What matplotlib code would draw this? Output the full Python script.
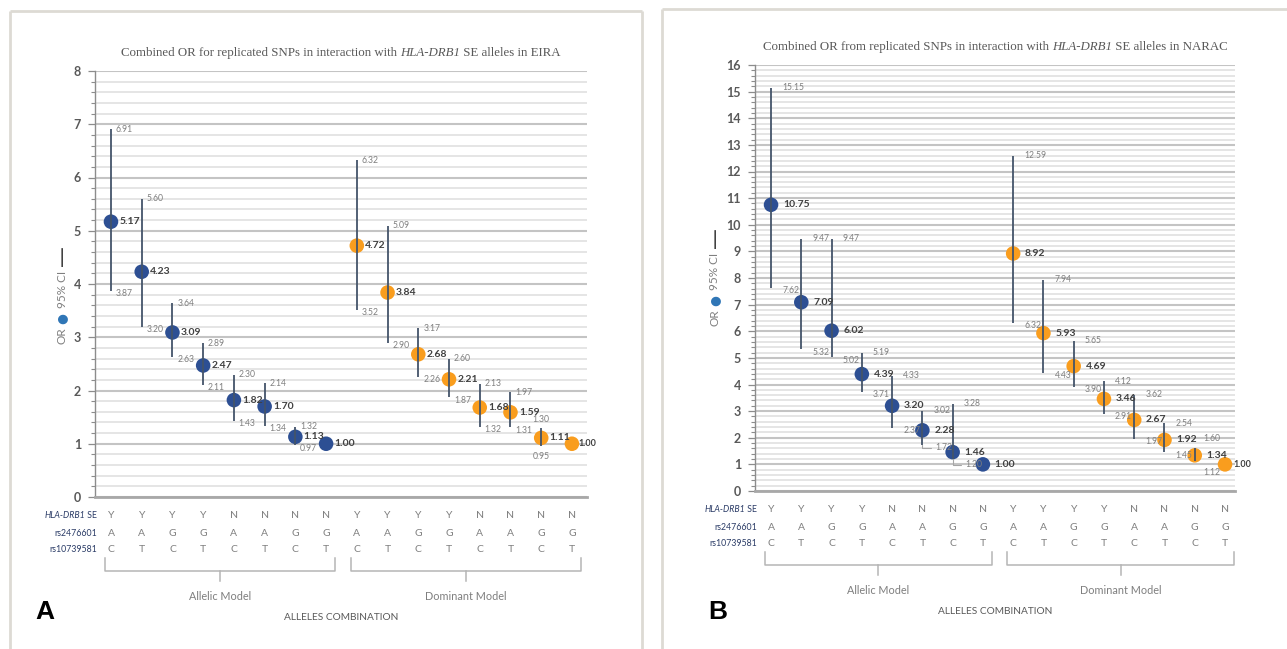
import matplotlib
matplotlib.use('Agg')
import matplotlib.pyplot as plt
import matplotlib.transforms as mtransforms
from matplotlib.lines import Line2D
import numpy as np

plt.rcParams['font.family'] = ['Lato', 'DejaVu Sans']

W, H = 1287, 649

# ---------------- data ----------------
hla_se     = ['Y', 'Y', 'Y', 'Y', 'N', 'N', 'N', 'N', 'Y', 'Y', 'Y', 'Y', 'N', 'N', 'N', 'N']
rs2476601  = ['A', 'A', 'G', 'G', 'A', 'A', 'G', 'G', 'A', 'A', 'G', 'G', 'A', 'A', 'G', 'G']
rs10739581 = ['C', 'T', 'C', 'T', 'C', 'T', 'C', 'T', 'C', 'T', 'C', 'T', 'C', 'T', 'C', 'T']
row_labels = ['HLA-DRB1 SE', 'rs2476601', 'rs10739581']
model_labels = ['Allelic Model', 'Dominant Model']

eira_allelic_or = [5.17, 4.23, 3.09, 2.47, 1.82, 1.70, 1.13, 1.00]
eira_allelic_lo = [3.87, 3.20, 2.63, 2.11, 1.43, 1.34, 0.97, None]
eira_allelic_hi = [6.91, 5.60, 3.64, 2.89, 2.30, 2.14, 1.32, None]
eira_dom_or = [4.72, 3.84, 2.68, 2.21, 1.68, 1.59, 1.11, 1.00]
eira_dom_lo = [3.52, 2.90, 2.26, 1.87, 1.32, 1.31, 0.95, None]
eira_dom_hi = [6.32, 5.09, 3.17, 2.60, 2.13, 1.97, 1.30, None]

narac_allelic_or = [10.75, 7.09, 6.02, 4.39, 3.20, 2.28, 1.46, 1.00]
narac_allelic_lo = [7.62, 5.32, 5.02, 3.71, 2.37, 1.72, 1.20, None]
narac_allelic_hi = [15.15, 9.47, 9.47, 5.19, 4.33, 3.02, 3.28, None]
narac_dom_or = [8.92, 5.93, 4.69, 3.46, 2.67, 1.92, 1.34, 1.00]
narac_dom_lo = [6.32, 4.43, 3.90, 2.91, 1.97, 1.45, 1.12, None]
narac_dom_hi = [12.59, 7.94, 5.65, 4.12, 3.62, 2.54, 1.60, None]

# ---------------- style ----------------
BLUE = '#2D4F93'
ORANGE = '#F99D1E'
BAR = '#44546A'
GRAY_TXT = '#7F7F7F'
DARK_TXT = '#404040'
NAVY_TXT = '#2A3B66'
FRAME = '#DDDAD4'

fig = plt.figure(figsize=(W / 100, H / 100), dpi=100)
fig.patch.set_facecolor('white')


def fx(px):
    return px / W


def fy(py):
    return 1 - py / H


def add_frame(lines):
    for xs, ys in lines:
        fig.add_artist(Line2D([fx(v) for v in xs], [fy(v) for v in ys],
                              transform=fig.transFigure, color=FRAME, lw=2.0,
                              solid_capstyle='butt'))


add_frame([([10, 10], [11, 660]), ([10, 642], [11, 11]), ([642, 642], [11, 660])])
add_frame([([662, 662], [9, 660]), ([662, 1300], [9, 9])])


def rich_line(parts, xc, y, renderer, **common):
    """parts: list of (text, style). centered at figure fraction xc."""
    texts = []
    for s, st in parts:
        t = fig.text(0, y, s, ha='left', va='center', style=st, **common)
        texts.append(t)
    widths = [t.get_window_extent(renderer).width for t in texts]
    total = sum(widths)
    x = xc * W - total / 2
    for t, w in zip(texts, widths):
        t.set_x(x / W)
        x += w


def panel(ax_rect, a_or, a_lo, a_hi, d_or, d_lo, d_hi, ymax, xlim, title_parts,
          letter, letter_x, ylab_x, ylab_or_y, val_off, ci_off, msize, overrides):
    left, top, right, bottom = ax_rect
    ax = fig.add_axes([fx(left), fy(bottom), fx(right - left), (bottom - top) / H])
    ax.set_facecolor('none')
    ors = a_or + d_or
    los = a_lo + d_lo
    his = a_hi + d_hi
    xs = np.arange(len(ors))
    cols = [BLUE] * len(a_or) + [ORANGE] * len(d_or)

    ax.set_xlim(*xlim)
    ax.set_ylim(0, ymax)
    ax.set_yticks(np.arange(0, ymax + 1, 1))
    ax.set_yticks(np.arange(0, ymax + 0.001, 0.2), minor=True)
    ax.grid(True, which='major', axis='y', color='#C4C4C4', lw=1.5)
    ax.grid(True, which='minor', axis='y', color='#DEDEDE', lw=1.1)
    ax.set_axisbelow(True)
    for s in ['top', 'right']:
        ax.spines[s].set_visible(False)
    ax.spines['left'].set_color('#8C8C8C')
    ax.spines['left'].set_linewidth(1.0)
    ax.spines['bottom'].set_color('#A8A8A8')
    ax.spines['bottom'].set_linewidth(2.0)
    ax.tick_params(axis='y', which='major', direction='out', color='#8C8C8C',
                   length=5, width=0.9, labelsize=9, labelcolor='#595959', pad=5)
    ax.tick_params(axis='y', which='minor', direction='out', color='#8C8C8C',
                   length=3, width=0.8)
    ax.tick_params(axis='x', bottom=False, labelbottom=False)
    for lbl in ax.get_yticklabels():
        lbl.set_fontweight('bold')

    # error bars (drawn over markers as in the reference)
    for i in xs:
        if los[i] is not None:
            ax.vlines(i, los[i], his[i], color=BAR, lw=1.3, zorder=5)
    ax.scatter(xs, ors, s=msize, c=cols, zorder=4, edgecolors='none')

    # labels
    for i in xs:
        ov = overrides.get(i, {})
        is_last = (i == len(ors) - 1)
        ax.annotate(f'{ors[i]:.2f}', (i, ors[i]),
                    xytext=(val_off * (0.75 if is_last else 1), 0),
                    textcoords='offset points', ha='left', va='center',
                    fontsize=6.5 if is_last else 7.5, fontweight='bold',
                    color=DARK_TXT, zorder=6)
        if los[i] is not None:
            hx, hy = ov.get('hi', (ci_off, 0))
            lx, ly = ov.get('lo', (ci_off, -2))
            ha_h = ov.get('ha', 'left')
            ax.annotate(f'{his[i]:.2f}', (i, his[i]), xytext=(hx, hy),
                        textcoords='offset points', ha=ha_h, va='center',
                        fontsize=6.2, color=GRAY_TXT, zorder=6)
            kw = {}
            if ov.get('leader'):
                kw['arrowprops'] = dict(arrowstyle='-', color='#A6A6A6', lw=0.8,
                                        shrinkA=1, shrinkB=0,
                                        connectionstyle='angle,angleA=180,angleB=90,rad=0')
            ax.annotate(f'{los[i]:.2f}', (i, los[i]), xytext=(lx, ly),
                        textcoords='offset points', ha=ha_h, va='center',
                        fontsize=6.2, color=GRAY_TXT, zorder=6, **kw)

    # category table below the axis
    trans = mtransforms.blended_transform_factory(ax.transData, fig.transFigure)
    row_offsets = [19, 36, 53]
    for rvals, off in zip([hla_se, rs2476601, rs10739581], row_offsets):
        for i, v in enumerate(rvals):
            ax.text(i, fy(bottom + off), v, transform=trans, ha='center', va='center',
                    fontsize=7.5, color=GRAY_TXT, clip_on=False)
    tl = mtransforms.blended_transform_factory(ax.transAxes, fig.transFigure)
    se = ax.text(0.004, fy(bottom + row_offsets[0]), ' SE', transform=tl, ha='right',
                 va='center', fontsize=6.3, color=NAVY_TXT, clip_on=False)
    ax.annotate('HLA-DRB1', xy=(0, 0.5), xycoords=se, ha='right', va='center',
                fontsize=6.3, color=NAVY_TXT, style='italic', annotation_clip=False)
    for lab, off in zip(row_labels[1:], row_offsets[1:]):
        ax.text(0.004, fy(bottom + off), lab, transform=tl, ha='right', va='center',
                fontsize=6.3, color=NAVY_TXT, clip_on=False)

    # braces
    groups = [(0, len(a_or) - 1), (len(a_or), len(ors) - 1)]
    for (g0, g1), mlab in zip(groups, model_labels):
        x0, x1 = g0 - 0.2, g1 + 0.3
        xm = (x0 + x1) / 2
        yt, yb, ytip = fy(bottom + 61), fy(bottom + 74), fy(bottom + 84)
        ax.plot([x0, x0, x1, x1], [yt, yb, yb, yt], transform=trans, color='#B5B5B5',
                lw=1.1, clip_on=False, solid_joinstyle='round')
        ax.plot([xm, xm], [yb, ytip], transform=trans, color='#B5B5B5', lw=1.1,
                clip_on=False)
        ax.text(xm, fy(bottom + 99), mlab, transform=trans, ha='center', va='center',
                fontsize=7.8, color=GRAY_TXT, clip_on=False)
    ax.text(0.5, fy(bottom + 121), 'ALLELES COMBINATION', transform=tl, ha='center',
            va='center', fontsize=7.3, color='#595959', clip_on=False)

    # panel letter
    fig.text(fx(letter_x), fy(612), letter, ha='center', va='center', fontsize=19,
             fontweight='bold', family='Liberation Sans', color='black')

    # title
    renderer = fig.canvas.get_renderer()
    rich_line(title_parts, (fx(left) + fx(right)) / 2, fy(top - 18), renderer,
              fontsize=9.3, color='#595959', family='Liberation Serif')

    # y label: OR ● 95% CI —
    t0 = fig.text(fx(ylab_x), fy(ylab_or_y), 'OR', rotation=90, ha='center', va='center',
                  fontsize=8.5, color=GRAY_TXT)
    t1 = ax.annotate('●', xy=(0.5, 1), xycoords=t0, xytext=(0, 3), textcoords='offset points',
                     rotation=90, ha='center', va='bottom', fontsize=9, color='#2E75B6',
                     family='DejaVu Sans', annotation_clip=False)
    t2 = ax.annotate('95% CI', xy=(0.5, 1), xycoords=t1, xytext=(0, 3), textcoords='offset points',
                     rotation=90, ha='center', va='bottom', fontsize=8.5, color=GRAY_TXT,
                     annotation_clip=False)
    ax.annotate('—', xy=(0.5, 1), xycoords=t2, xytext=(0, 4), textcoords='offset points',
                rotation=90, ha='center', va='bottom', fontsize=15, color='#404040',
                family='DejaVu Sans', annotation_clip=False)
    return ax


panel((95, 71, 587, 497), eira_allelic_or, eira_allelic_lo, eira_allelic_hi,
      eira_dom_or, eira_dom_lo, eira_dom_hi, 8, (-0.52, 15.49),
      [('Combined OR for replicated SNPs in interaction with ', 'normal'),
       ('HLA-DRB1', 'italic'), (' SE alleles in EIRA', 'normal')],
      'A', 45, 62, 336, 6.0, 3.5, 110,
      {14: {'hi': (0, 6), 'lo': (0, -7), 'ha': 'center'}})

panel((755, 65, 1235, 491), narac_allelic_or, narac_allelic_lo, narac_allelic_hi,
      narac_dom_or, narac_dom_lo, narac_dom_hi, 16, (-0.53, 15.33),
      [('Combined OR from replicated SNPs in interaction with ', 'normal'),
       ('HLA-DRB1', 'italic'), (' SE alleles in NARAC', 'normal')],
      'B', 718, 715, 318, 8.5, 8.0, 110,
      {5: {'lo': (9, -2), 'leader': True},
       6: {'lo': (9, -4), 'leader': True},
       14: {'hi': (6, 7), 'lo': (6, -8)}})

fig.savefig('out.png', dpi=100, facecolor='white')
